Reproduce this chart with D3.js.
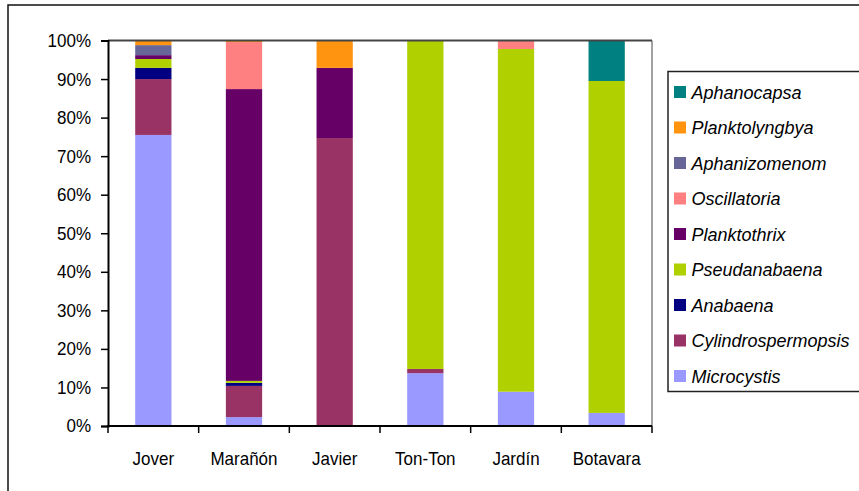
<!DOCTYPE html>
<html>
<head>
<meta charset="utf-8">
<script src="https://cdn.jsdelivr.net/npm/d3@7"></script>
<style>
  html, body { margin: 0; padding: 0; background: #fff; }
  svg { display: block; }
  text { font-family: "Liberation Sans", Arial, sans-serif; fill: #000; }
</style>
</head>
<body>
<svg id="chart" width="859" height="491"></svg>
<script>
// Sampling sites
const sites = ["Jover", "Marañón", "Javier", "Ton-Ton", "Jardín", "Botavara"];

// Genera, stacked bottom to top
const genera = ["Microcystis", "Cylindrospermopsis", "Anabaena", "Pseudanabaena",
  "Planktothrix", "Oscillatoria", "Aphanizomenom", "Planktolyngbya", "Aphanocapsa"];

// Relative abundance (%) of each genus per site, in site order
const microcystis        = [75.5,  2.3,  0.0, 13.7,  8.9,  3.4];
const cylindrospermopsis = [14.5,  8.1, 74.7,  1.1,  0.0,  0.0];
const anabaena           = [ 2.9,  0.8,  0.0,  0.0,  0.0,  0.0];
const pseudanabaena      = [ 2.3,  0.5,  0.0, 85.2, 88.9, 86.1];
const planktothrix       = [ 1.0, 75.7, 18.2,  0.0,  0.0,  0.0];
const oscillatoria       = [ 0.0, 12.2,  0.0,  0.0,  2.2,  0.0];
const aphanizomenom      = [ 2.6,  0.0,  0.0,  0.0,  0.0,  0.0];
const planktolyngbya     = [ 1.2,  0.4,  7.1,  0.0,  0.0,  0.0];
const aphanocapsa        = [ 0.0,  0.0,  0.0,  0.0,  0.0, 10.5];

// Y-axis tick values and labels
const yTicks = [0, 10, 20, 30, 40, 50, 60, 70, 80, 90, 100];
const yTickLabels = ["0%", "10%", "20%", "30%", "40%", "50%", "60%", "70%", "80%", "90%", "100%"];

const colors = {
  Microcystis: "#9999FF",
  Cylindrospermopsis: "#993366",
  Anabaena: "#000080",
  Pseudanabaena: "#B0D000",
  Planktothrix: "#660066",
  Oscillatoria: "#FF8080",
  Aphanizomenom: "#666699",
  Planktolyngbya: "#FF9410",
  Aphanocapsa: "#008080"
};

const seriesValues = {
  Microcystis: microcystis,
  Cylindrospermopsis: cylindrospermopsis,
  Anabaena: anabaena,
  Pseudanabaena: pseudanabaena,
  Planktothrix: planktothrix,
  Oscillatoria: oscillatoria,
  Aphanizomenom: aphanizomenom,
  Planktolyngbya: planktolyngbya,
  Aphanocapsa: aphanocapsa
};

// Row table for d3.stack
const rows = sites.map((s, i) => {
  const r = { site: s };
  genera.forEach(g => { r[g] = seriesValues[g][i]; });
  return r;
});

const svg = d3.select("#chart");

// Outer frame
svg.append("rect")
  .attr("x", 8).attr("y", 5)
  .attr("width", 870).attr("height", 500)
  .attr("fill", "none").attr("stroke", "#111").attr("stroke-width", 1.5);

const plot = { left: 108, right: 652, top: 40.5, bottom: 426 };

const x = d3.scaleBand()
  .domain(sites)
  .range([plot.left, plot.right])
  .paddingInner(0.6)
  .paddingOuter(0.3);

const y = d3.scaleLinear()
  .domain([0, 100])
  .range([plot.bottom, plot.top]);

const stack = d3.stack().keys(genera);
const layers = stack(rows);

// Bars
svg.append("g")
  .selectAll("g")
  .data(layers)
  .join("g")
  .attr("fill", d => colors[d.key])
  .selectAll("rect")
  .data(d => d)
  .join("rect")
  .attr("x", d => x(d.data.site))
  .attr("width", x.bandwidth())
  .attr("y", d => y(d[1]))
  .attr("height", d => Math.max(0, y(d[0]) - y(d[1])));

// Plot area top and right edges
svg.append("line")
  .attr("x1", plot.left).attr("x2", plot.right)
  .attr("y1", y(100)).attr("y2", y(100))
  .attr("stroke", "#444").attr("stroke-width", 2);
svg.append("line")
  .attr("x1", plot.right).attr("x2", plot.right)
  .attr("y1", y(100)).attr("y2", plot.bottom)
  .attr("stroke", "#444").attr("stroke-width", 1);

// Y axis
const yAxis = d3.axisLeft(y)
  .tickValues(yTicks)
  .tickFormat((d, i) => yTickLabels[i])
  .tickSize(7)
  .tickPadding(10);

const gy = svg.append("g")
  .attr("transform", `translate(${plot.left},0)`)
  .call(yAxis);
gy.select(".domain").attr("stroke", "#000").attr("stroke-width", 2);
gy.selectAll(".tick line").attr("stroke", "#000").attr("stroke-width", 1.5);
gy.selectAll(".tick text")
  .attr("font-size", 17)
  .attr("font-family", "Liberation Sans, Arial, sans-serif")
  .attr("fill", "#000")
  .attr("transform", "scale(1,1.1)");

// X axis: ticks between categories
const boundaries = d3.range(sites.length + 1).map(i => plot.left + i * (plot.right - plot.left) / sites.length);
svg.append("line")
  .attr("x1", plot.left - 1).attr("x2", plot.right)
  .attr("y1", plot.bottom).attr("y2", plot.bottom)
  .attr("stroke", "#000").attr("stroke-width", 2);
svg.append("g")
  .selectAll("line")
  .data(boundaries)
  .join("line")
  .attr("x1", d => d).attr("x2", d => d)
  .attr("y1", plot.bottom).attr("y2", plot.bottom + 7)
  .attr("stroke", "#000").attr("stroke-width", 1.5);

svg.append("g")
  .selectAll("text")
  .data(sites)
  .join("text")
  .attr("transform", d => `translate(${x(d) + x.bandwidth() / 2},465) scale(1,1.1)`)
  .attr("text-anchor", "middle")
  .attr("font-size", 17)
  .text(d => d);

// Legend
const legend = svg.append("g");
legend.append("rect")
  .attr("x", 668).attr("y", 71.5)
  .attr("width", 220).attr("height", 320)
  .attr("fill", "#fff").attr("stroke", "#222").attr("stroke-width", 1.5);

const legendOrder = genera.slice().reverse();
const item = legend.selectAll("g.item")
  .data(legendOrder)
  .join("g")
  .attr("class", "item")
  .attr("transform", (d, i) => `translate(674, ${92 + i * 35.5})`);
item.append("rect")
  .attr("x", 0).attr("y", -6)
  .attr("width", 12).attr("height", 12)
  .attr("fill", d => colors[d]);
item.append("text")
  .attr("x", 17.5).attr("y", 6.5)
  .attr("font-size", 18)
  .attr("font-style", "italic")
  .text(d => d);
</script>
</body>
</html>
